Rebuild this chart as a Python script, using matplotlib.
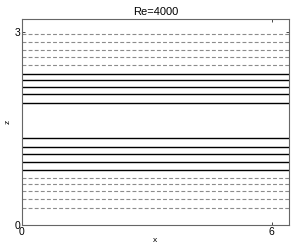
"""Contour lines of the base flow, Re=4000."""

import matplotlib
matplotlib.use('Agg')
from matplotlib import pyplot

# Domain extent.
x_max = 6.41
z_max = 3.2

# Contour line heights.
z_dashed_top = [2.975, 2.846, 2.726, 2.607, 2.488]
z_solid_top = [2.352, 2.259, 2.145, 2.031, 1.896]
z_solid_bottom = [1.346, 1.215, 1.097, 0.972, 0.857]
z_dashed_bottom = [0.732, 0.639, 0.525, 0.405, 0.265]

xticks = [0, 6]
zticks = [0, 3]

pyplot.rc('font', family='Liberation Sans', size=7)
fig = pyplot.figure(figsize=(2.91, 2.49), dpi=100)
ax = fig.add_axes([0.0756, 0.0976, 0.9166, 0.8249])

for z in z_dashed_top + z_dashed_bottom:
    ax.plot([0.0, x_max], [z, z], color='0.55', linewidth=0.8,
            dashes=(3.5, 2.0))
for z in z_solid_top + z_solid_bottom:
    ax.plot([0.0, x_max], [z, z], color='black', linewidth=1.0)

ax.set_xlim(0.0, x_max)
ax.set_ylim(0.0, z_max)
ax.set_xticks(xticks)
ax.set_yticks(zticks)
ax.tick_params(direction='in', length=2, width=0.5, top=True, right=True,
               pad=1.5, labelsize=7.5)
for spine in ax.spines.values():
    spine.set_color('0.4')
    spine.set_linewidth(0.8)
ax.set_xlabel('x', fontsize=6, labelpad=0)
ax.set_ylabel('z', fontsize=6, labelpad=2, rotation=90)
ax.set_title('Re=4000', fontsize=8, pad=3)

fig.savefig('out.png', dpi=100)
